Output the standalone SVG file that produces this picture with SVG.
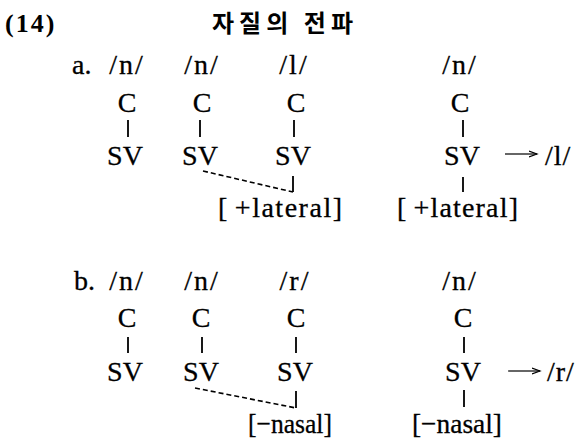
<svg xmlns="http://www.w3.org/2000/svg" width="582" height="439" viewBox="0 0 582 439">
<defs>
<style>
.t{font-family:"Liberation Serif","Times New Roman",serif;font-size:28px;fill:#000;text-anchor:middle;stroke:#000;stroke-width:0.3}
.l{font-family:"Liberation Serif","Times New Roman",serif;font-size:28px;fill:#000;stroke:#000;stroke-width:0.3}
.s{stroke:#000;stroke-width:1.8;fill:none}
.d{stroke:#000;stroke-width:1.6;fill:none;stroke-dasharray:5 3}
.a{stroke:#000;stroke-width:1.2;fill:none}
</style>
<marker id="ah" markerWidth="10" markerHeight="8" refX="8" refY="4" orient="auto" markerUnits="userSpaceOnUse">
<path d="M0,1 L8,4 L0,7" fill="none" stroke="#000" stroke-width="1.2"/>
</marker>
</defs>
<rect width="582" height="439" fill="#fff"/>
<g id="title">
<text x="5" y="32" letter-spacing="2" style="font-family:'Liberation Serif',serif;font-weight:bold;font-size:26px">(14)</text>
<text x="212" y="32" textLength="141" lengthAdjust="spacing" style="font-family:'Noto Sans CJK KR',sans-serif;font-weight:bold;font-size:24px">자질의 전파</text>
</g>
<g id="a">
<text class="l" x="72" y="74">a.</text>
<g id="a1"><text class="t" x="127" y="74" letter-spacing="2">/n/</text><text class="t" x="127" y="112">C</text><text class="t" x="125" y="165">SV</text></g>
<g id="a2"><text class="t" x="202" y="74" letter-spacing="2">/n/</text><text class="t" x="202" y="112">C</text><text class="t" x="200" y="165">SV</text></g>
<g id="a3"><text class="t" x="294" y="74" letter-spacing="2">/l/</text><text class="t" x="296" y="112">C</text><text class="t" x="293" y="165">SV</text><text class="l" x="218" y="217" textLength="124" lengthAdjust="spacing">[<tspan dx="6">+lateral]</tspan></text></g>
<g id="a4"><text class="t" x="460" y="74" letter-spacing="2">/n/</text><text class="t" x="460" y="112">C</text><text class="t" x="462" y="165">SV</text><text class="l" x="397" y="217" textLength="121" lengthAdjust="spacing">[<tspan dx="6">+lateral]</tspan></text><text class="l" x="545" y="165" letter-spacing="1">/l/</text></g>
</g>
<g id="b">
<text class="l" x="74" y="290">b.</text>
<g id="b1"><text class="t" x="127" y="290" letter-spacing="2">/n/</text><text class="t" x="127" y="327">C</text><text class="t" x="125" y="381">SV</text></g>
<g id="b2"><text class="t" x="202" y="290" letter-spacing="2">/n/</text><text class="t" x="201" y="327">C</text><text class="t" x="201" y="381">SV</text></g>
<g id="b3"><text class="t" x="295" y="290" letter-spacing="2">/r/</text><text class="t" x="296" y="327">C</text><text class="t" x="295" y="381">SV</text><text class="l" x="248" y="433" textLength="84" lengthAdjust="spacingAndGlyphs">[−nasal]</text></g>
<g id="b4"><text class="t" x="460" y="290" letter-spacing="2">/n/</text><text class="t" x="463" y="327">C</text><text class="t" x="463" y="381">SV</text><text class="l" x="412" y="433" textLength="90" lengthAdjust="spacingAndGlyphs">[−nasal]</text><text class="l" x="547" y="381" letter-spacing="1">/r/</text></g>
</g>
<g id="connectors">
<path class="s" d="M128,120V137M200,120V137M294,120V137M463,120V137M463,177V192M293,176V192"/>
<path class="d" d="M203,171L293,192"/>
<line class="a" x1="505" y1="154" x2="537" y2="154" marker-end="url(#ah)"/>
<path class="s" d="M128,337V353M202,337V353M296,337V353M464,337V353M464,390V407M296,391V408"/>
<path class="d" d="M195,388L296,408"/>
<line class="a" x1="508" y1="371" x2="540" y2="371" marker-end="url(#ah)"/>
</g>
</svg>
